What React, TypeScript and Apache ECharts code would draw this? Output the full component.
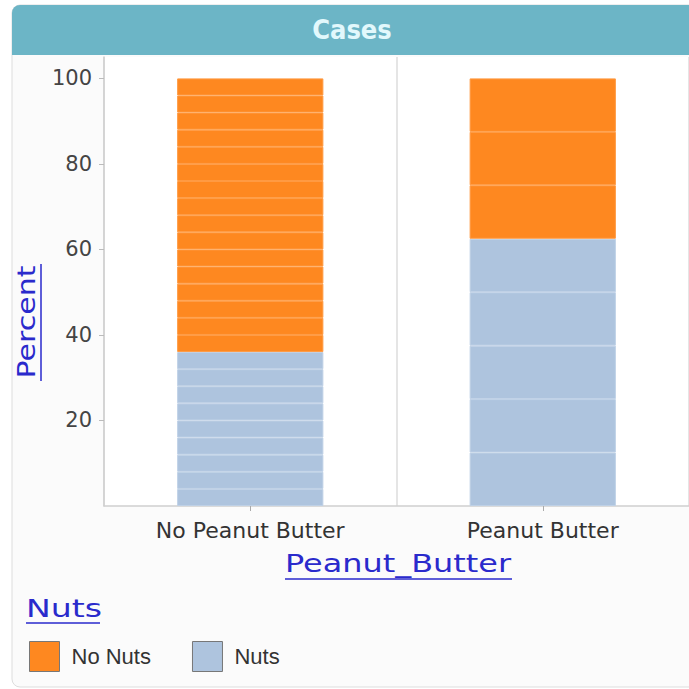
import React, { useEffect, useRef } from "react";
import * as echarts from "echarts";

const categories = ["No Peanut Butter", "Peanut Butter"];
const nutsCounts = [9, 5];
const noNutsCounts = [16, 3];
const yTicks = [20, 40, 60, 80, 100];
const legendNames = ["No Nuts", "Nuts"];

const ORANGE = "#fe8820";
const BLUE = "#aec4de";
const LINK = "#2a2acc";
const FONT = "'DejaVu Sans', 'Noto Sans', sans-serif";
const LEGEND_FONT = "'Liberation Sans', Arial, sans-serif";

export default function App() {
  const ref = useRef<HTMLDivElement>(null);
  useEffect(() => {
    document.body.style.margin = "0";
    const chart = echarts.init(ref.current!, null, { renderer: "svg" });
    const totals = categories.map((_, i) => nutsCounts[i] + noNutsCounts[i]);
    const series: any[] = [];
    const maxNuts = Math.max(...nutsCounts);
    for (let k = 0; k < maxNuts; k++) {
      series.push({
        type: "bar",
        name: "Nuts",
        stack: "s",
        barWidth: "50%",
        data: categories.map((_, i) => (k < nutsCounts[i] ? 100 / totals[i] : "-")),
        itemStyle: { color: BLUE, borderColor: "#bfd1e6", borderWidth: 1 },
      });
    }
    const maxNo = Math.max(...noNutsCounts);
    for (let k = 0; k < maxNo; k++) {
      series.push({
        type: "bar",
        name: "No Nuts",
        stack: "s",
        barWidth: "50%",
        data: categories.map((_, i) => (k < noNutsCounts[i] ? 100 / totals[i] : "-")),
        itemStyle: { color: ORANGE, borderColor: "#ff9a42", borderWidth: 1 },
      });
    }
    chart.setOption({
      animation: false,
      color: [ORANGE, BLUE],
      textStyle: { fontFamily: FONT },
      grid: {
        left: 104,
        top: 57,
        right: -3,
        bottom: 183,
        show: true,
        backgroundColor: "#ffffff",
        borderWidth: 0,
        containLabel: false,
      },
      xAxis: {
        type: "category",
        data: categories,
        axisLine: { lineStyle: { color: "#cfcfcf", width: 1.5 } },
        axisTick: { show: true, alignWithLabel: true, length: 5, lineStyle: { color: "#aaa" } },
        splitLine: { show: true, lineStyle: { color: "#dcdcdc", width: 1.5 } },
        axisLabel: { color: "#333", fontSize: 22, margin: 13, fontFamily: FONT },
      },
      yAxis: {
        type: "value",
        min: 0,
        max: 105,
        interval: 20,
        axisLine: { show: true, lineStyle: { color: "#cfcfcf", width: 1.5 } },
        axisTick: { show: true, length: 5, lineStyle: { color: "#bbb" }, customValues: yTicks },
        axisLabel: { color: "#444", fontSize: 21, margin: 12, fontFamily: FONT, customValues: yTicks },
        splitLine: { show: false },
      },
      legend: {
        data: legendNames,
        left: 29,
        top: 641,
        padding: 0,
        icon: "rect",
        itemWidth: 30,
        itemHeight: 30,
        itemGap: 41,
        itemStyle: { borderColor: "#777", borderWidth: 1 },
        textStyle: { color: "#333", fontSize: 22, fontFamily: LEGEND_FONT, padding: [0, 0, 0, 7] },
        selectedMode: false,
      },
      graphic: [
        {
          type: "rect",
          z: -10,
          shape: { x: 12, y: 5, width: 700, height: 682, r: 8 },
          style: { fill: "#fbfbfb", stroke: "#dddddd", lineWidth: 1 },
          silent: true,
        },
        {
          type: "rect",
          shape: { x: 12, y: 5, width: 700, height: 50, r: [8, 0, 0, 0] },
          style: { fill: "#6cb5c6" },
          silent: true,
        },
        {
          type: "text",
          x: 352,
          y: 29,
          style: {
            text: "Cases",
            fill: "#e2f8fc",
            fontSize: 27,
            fontWeight: "bold",
            fontFamily: "'Liberation Sans Narrow', 'DejaVu Sans Condensed', sans-serif",
            align: "center",
            verticalAlign: "middle",
          },
        },
        {
          type: "text",
          x: 27,
          y: 322,
          rotation: Math.PI / 2,
          scaleX: 1.25,
          style: {
            text: "Percent",
            fill: LINK,
            fontSize: 24,
            fontFamily: FONT,
            align: "center",
            verticalAlign: "middle",
          },
        },
        { type: "line", shape: { x1: 41, y1: 264, x2: 41, y2: 381 }, style: { stroke: LINK, lineWidth: 1.5 } },
        {
          type: "text",
          x: 398,
          y: 564,
          scaleX: 1.33,
          style: {
            text: "Peanut_Butter",
            fill: LINK,
            fontSize: 24,
            fontFamily: FONT,
            align: "center",
            verticalAlign: "middle",
          },
        },
        { type: "line", shape: { x1: 285, y1: 579, x2: 512, y2: 579 }, style: { stroke: LINK, lineWidth: 1.5 } },
        {
          type: "text",
          x: 26,
          y: 609,
          scaleX: 1.38,
          style: {
            text: "Nuts",
            fill: LINK,
            fontSize: 24,
            fontFamily: FONT,
            align: "left",
            verticalAlign: "middle",
          },
        },
        { type: "line", shape: { x1: 26, y1: 623, x2: 100, y2: 623 }, style: { stroke: LINK, lineWidth: 1.5 } },
      ],
      series,
    });
    return () => chart.dispose();
  }, []);
  return <div ref={ref} style={{ width: 689, height: 689 }} />;
}
